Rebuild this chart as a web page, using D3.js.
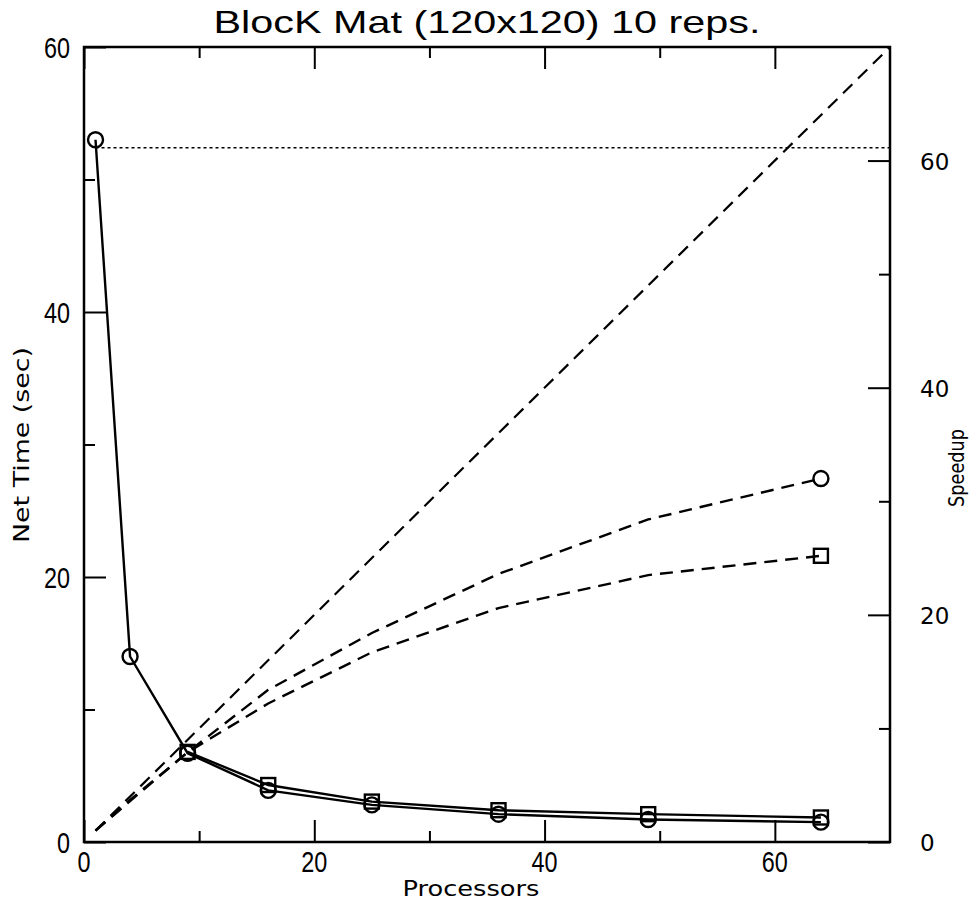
<!DOCTYPE html>
<html>
<head>
<meta charset="utf-8">
<script src="https://cdn.jsdelivr.net/npm/d3@7"></script>
<style>
  html, body { margin: 0; padding: 0; background: #fff; }
  svg { display: block; }
  text { fill: #000; }
</style>
</head>
<body>
<svg id="chart" width="971" height="907"></svg>
<script>
// Processor counts at which the benchmark was run
const processors = [1, 4, 9, 16, 25, 36, 49, 64];

// Net time (seconds), circle-marked run
const timeCircle = [53, 14, 6.7, 3.9, 2.8, 2.1, 1.7, 1.5];
// Net time (seconds), square-marked run (starts at 9 processors)
const procSquare = [9, 16, 25, 36, 49, 64];
const timeSquare = [6.8, 4.3, 3.05, 2.4, 2.1, 1.85];

// Speedup curves for the two runs
const speedCircle = [1, 3.7, 7.9, 13.4, 18.4, 23.6, 28.4, 32];
const speedSquare = [1, 3.6, 7.9, 12.2, 16.7, 20.6, 23.5, 25.2];

// Ideal (linear) speedup endpoints and sequential time reference
const idealProc = [1, 70];
const sequentialTime = 52.4;

// Axis ticks
const xMajor = [0, 20, 40, 60];
const xMinor = [10, 30, 50];
const timeMajor = [0, 20, 40, 60];
const timeMinor = [10, 30, 50];
const speedMajor = [0, 20, 40, 60];
const speedMinor = [10, 30, 50];

const L = 84, R = 890, T = 47, B = 842;
const svg = d3.select("#chart");

const x = d3.scaleLinear().domain([0, 70]).range([L, R]);
const yTime = d3.scaleLinear().domain([0, 60]).range([B, T]);
const ySpeed = d3.scaleLinear().domain([0, 70]).range([B, T]);

const condensed = "'Liberation Sans', 'DejaVu Sans', sans-serif";
const round = "'DejaVu Sans', 'Noto Sans', sans-serif";

// Inward ticks on all four sides
function ticks(axisFn, scale, values, size, transform) {
  const g = svg.append("g")
    .attr("transform", transform)
    .call(axisFn(scale).tickValues(values).tickSize(size).tickFormat(""));
  g.select(".domain").remove();
  g.selectAll(".tick line").attr("stroke", "#000").attr("stroke-width", 2);
  return g;
}
ticks(d3.axisBottom, x, xMajor, -22, `translate(0,${B})`);
ticks(d3.axisBottom, x, xMinor, -11, `translate(0,${B})`);
ticks(d3.axisTop, x, xMajor, -22, `translate(0,${T})`);
ticks(d3.axisTop, x, xMinor, -11, `translate(0,${T})`);
ticks(d3.axisLeft, yTime, timeMajor, -22, `translate(${L},0)`);
ticks(d3.axisLeft, yTime, timeMinor, -11, `translate(${L},0)`);
ticks(d3.axisRight, ySpeed, speedMajor, -22, `translate(${R},0)`);
ticks(d3.axisRight, ySpeed, speedMinor, -11, `translate(${R},0)`);

// Frame
svg.append("rect")
  .attr("x", L).attr("y", T).attr("width", R - L).attr("height", B - T)
  .attr("fill", "none").attr("stroke", "#000").attr("stroke-width", 2.5);

// Tick labels
svg.append("g").selectAll("text").data(xMajor).join("text")
  .attr("x", d => x(d)).attr("y", 872)
  .attr("text-anchor", "middle")
  .attr("font-family", condensed).attr("font-size", 30)
  .attr("textLength", d => String(d).length * 13)
  .attr("lengthAdjust", "spacingAndGlyphs")
  .text(d => d);

svg.append("g").selectAll("text").data(timeMajor).join("text")
  .attr("x", 70).attr("y", d => yTime(d) + 11)
  .attr("text-anchor", "end")
  .attr("font-family", condensed).attr("font-size", 30)
  .attr("textLength", d => String(d).length * 13)
  .attr("lengthAdjust", "spacingAndGlyphs")
  .text(d => d);

svg.append("g").selectAll("text").data(speedMajor).join("text")
  .attr("x", 920).attr("y", d => ySpeed(d) + 9)
  .attr("text-anchor", "start")
  .attr("font-family", round).attr("font-size", 23)
  .text(d => d);

// Title and axis titles
svg.append("text")
  .attr("x", 487).attr("y", 33)
  .attr("text-anchor", "middle")
  .attr("font-family", condensed).attr("font-size", 32)
  .attr("textLength", 547).attr("lengthAdjust", "spacingAndGlyphs")
  .text("BlocK Mat (120x120) 10 reps.");

svg.append("text")
  .attr("x", 471).attr("y", 896)
  .attr("text-anchor", "middle")
  .attr("font-family", round).attr("font-size", 21)
  .attr("textLength", 137).attr("lengthAdjust", "spacingAndGlyphs")
  .text("Processors");

svg.append("text")
  .attr("transform", "translate(29,445) rotate(-90)")
  .attr("text-anchor", "middle")
  .attr("font-family", round).attr("font-size", 21)
  .attr("textLength", 196).attr("lengthAdjust", "spacingAndGlyphs")
  .text("Net Time (sec)");

svg.append("text")
  .attr("transform", "translate(964,468) rotate(-90)")
  .attr("text-anchor", "middle")
  .attr("font-family", round).attr("font-size", 22)
  .attr("textLength", 78).attr("lengthAdjust", "spacingAndGlyphs")
  .text("Speedup");

const plot = svg.append("g");

// Sequential time reference (dotted)
plot.append("path")
  .datum(idealProc)
  .attr("d", d3.line().x(d => x(d)).y(() => yTime(sequentialTime)))
  .attr("fill", "none").attr("stroke", "#000")
  .attr("stroke-width", 1.6).attr("stroke-dasharray", "3,3");

// Ideal speedup (dashed)
plot.append("path")
  .datum(idealProc)
  .attr("d", d3.line().x(d => x(d)).y(d => ySpeed(d)))
  .attr("fill", "none").attr("stroke", "#000")
  .attr("stroke-width", 2.2).attr("stroke-dasharray", "13,8");

// Measured speedup curves (dashed)
const speedLine = d3.line().x(d => x(d[0])).y(d => ySpeed(d[1]));
[speedCircle, speedSquare].forEach(s => {
  plot.append("path")
    .datum(processors.map((p, i) => [p, s[i]]))
    .attr("d", speedLine)
    .attr("fill", "none").attr("stroke", "#000")
    .attr("stroke-width", 2.4).attr("stroke-dasharray", "13,8");
});

// Net time curves (solid)
const timeLine = d3.line().x(d => x(d[0])).y(d => yTime(d[1]));
const circleData = processors.map((p, i) => [p, timeCircle[i]]);
const squareData = procSquare.map((p, i) => [p, timeSquare[i]]);
plot.append("path").datum(circleData).attr("d", timeLine)
  .attr("fill", "none").attr("stroke", "#000").attr("stroke-width", 2.4);
plot.append("path").datum(squareData).attr("d", timeLine)
  .attr("fill", "none").attr("stroke", "#000").attr("stroke-width", 2.4);

// Markers
function circles(data, yScale) {
  plot.append("g").selectAll("circle").data(data).join("circle")
    .attr("cx", d => x(d[0])).attr("cy", d => yScale(d[1])).attr("r", 7.5)
    .attr("fill", "none").attr("stroke", "#000").attr("stroke-width", 2.4);
}
function squares(data, yScale) {
  const s = 14;
  plot.append("g").selectAll("rect").data(data).join("rect")
    .attr("x", d => x(d[0]) - s / 2).attr("y", d => yScale(d[1]) - s / 2)
    .attr("width", s).attr("height", s)
    .attr("fill", "none").attr("stroke", "#000").attr("stroke-width", 2.4);
}
circles(circleData, yTime);
squares(squareData, yTime);
const last = processors.length - 1;
circles([[processors[last], speedCircle[last]]], ySpeed);
squares([[processors[last], speedSquare[last]]], ySpeed);
</script>
</body>
</html>
